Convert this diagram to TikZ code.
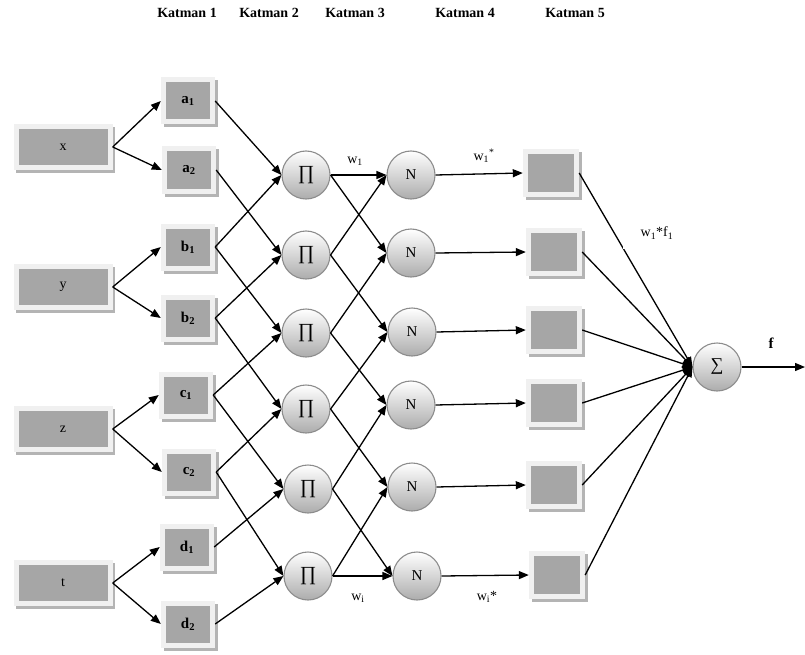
\documentclass[tikz,border=0pt]{standalone}
\usepackage{fontspec}
\setmainfont{Liberation Serif}
\usetikzlibrary{arrows.meta,shadows}

\definecolor{framegray}{HTML}{F0F0F0}
\definecolor{boxgray}{HTML}{A6A6A6}
\definecolor{shadowgray}{HTML}{B4B4B4}

\tikzset{
  box/.style={fill=framegray,
    drop shadow={shadow xshift=2.5pt, shadow yshift=-3pt, fill=shadowgray, opacity=1},
    path picture={\fill[boxgray] ([shift={(5pt,5pt)}]path picture bounding box.south west)
      rectangle ([shift={(-5pt,-5pt)}]path picture bounding box.north east);}},
  inbox/.style={box, minimum width=99pt, minimum height=46pt, font=\fontsize{14}{16}\selectfont},
  mfbox/.style={box, minimum width=54pt, minimum height=47pt, font=\bfseries\fontsize{15}{17}\selectfont},
  outbox/.style={box, minimum width=56pt, minimum height=48pt},
  neuron/.style={circle, minimum size=48pt, inner sep=0pt, draw=gray!90, line width=1.1pt,
    top color=white, bottom color=gray!65},
  link/.style={line width=1.3pt, -{Triangle[length=10pt,width=8pt]}},
  lbl/.style={font=\fontsize{14}{16}\selectfont, inner sep=1pt},
  head/.style={font=\bfseries\fontsize{14}{16}\selectfont}
}

\begin{document}
\begin{tikzpicture}[x=1pt, y=-1pt]
\useasboundingbox (0,0) rectangle (805,655);

% headings
\node[head] (h1) at (187,13) {Katman 1};
\node[head] (h2) at (269,13) {Katman 2};
\node[head] (h3) at (355,13) {Katman 3};
\node[head] (h4) at (465,13) {Katman 4};
\node[head] (h5) at (575,13) {Katman 5};

% inputs
\node[inbox] (i1) at (63,147) {x};
\node[inbox] (i2) at (63,287) {y};
\node[inbox] (i3) at (63,429) {z};
\node[inbox] (i4) at (63,583) {t};

% layer 1
\node[mfbox] (m1) at (188,101) {a\textsubscript{1}};
\node[mfbox] (m2) at (189,170) {a\textsubscript{2}};
\node[mfbox] (m3) at (188,247) {b\textsubscript{1}};
\node[mfbox] (m4) at (188,318) {b\textsubscript{2}};
\node[mfbox] (m5) at (186,395) {c\textsubscript{1}};
\node[mfbox] (m6) at (189,472) {c\textsubscript{2}};
\node[mfbox] (m7) at (187,547) {d\textsubscript{1}};
\node[mfbox] (m8) at (188,624) {d\textsubscript{2}};

% layer 2
\node[neuron, font=\fontsize{20}{22}\selectfont] (p1) at (306,175) {∏};
\node[neuron, font=\fontsize{20}{22}\selectfont] (p2) at (306,255) {∏};
\node[neuron, font=\fontsize{20}{22}\selectfont] (p3) at (306,333) {∏};
\node[neuron, font=\fontsize{20}{22}\selectfont] (p4) at (306,409) {∏};
\node[neuron, font=\fontsize{20}{22}\selectfont] (p5) at (308,489) {∏};
\node[neuron, font=\fontsize{20}{22}\selectfont] (p6) at (308,576) {∏};

% layer 3
\node[neuron, font=\fontsize{15}{17}\selectfont] (n1) at (411,175) {N};
\node[neuron, font=\fontsize{15}{17}\selectfont] (n2) at (411,253) {N};
\node[neuron, font=\fontsize{15}{17}\selectfont] (n3) at (412,332) {N};
\node[neuron, font=\fontsize{15}{17}\selectfont] (n4) at (411,405) {N};
\node[neuron, font=\fontsize{15}{17}\selectfont] (n5) at (412,487) {N};
\node[neuron, font=\fontsize{15}{17}\selectfont] (n6) at (417,576) {N};

% layer 4
\node[outbox] (q1) at (551,173) {};
\node[outbox] (q2) at (554,252) {};
\node[outbox] (q3) at (554,330) {};
\node[outbox] (q4) at (554,403) {};
\node[outbox] (q5) at (554,485) {};
\node[outbox] (q6) at (557,575) {};

% layer 5
\node[neuron, font=\fontsize{18}{20}\selectfont] (s) at (717,367) {∑};
\coordinate (o) at (805,367);

% inputs -> layer 1
\draw[link] (i1.east) -- (m1.west);
\draw[link] (i1.east) -- (m2.west);
\draw[link] (i2.east) -- (m3.west);
\draw[link] (i2.east) -- (m4.west);
\draw[link] (i3.east) -- (m5.west);
\draw[link] (i3.east) -- (m6.west);
\draw[link] (i4.east) -- (m7.west);
\draw[link] (i4.east) -- (m8.west);

% layer 1 -> layer 2
\draw[link] (m1.east) -- (p1.west);
\draw[link] (m2.east) -- (p2.west);
\draw[link] (m3.east) -- (p1.west);
\draw[link] (m3.east) -- (p3.west);
\draw[link] (m4.east) -- (p2.west);
\draw[link] (m4.east) -- (p4.west);
\draw[link] (m5.east) -- (p3.west);
\draw[link] (m5.east) -- (p5.west);
\draw[link] (m6.east) -- (p4.west);
\draw[link] (m6.east) -- (p6.west);
\draw[link] (m7.east) -- (p5.west);
\draw[link] (m8.east) -- (p6.west);

% layer 2 -> layer 3
\draw[link] (p1.east) -- (n1.west);
\draw[link] (p1.east) -- (n2.west);
\draw[link] (p2.east) -- (n1.west);
\draw[link] (p2.east) -- (n3.west);
\draw[link] (p3.east) -- (n2.west);
\draw[link] (p3.east) -- (n4.west);
\draw[link] (p4.east) -- (n3.west);
\draw[link] (p4.east) -- (n5.west);
\draw[link] (p5.east) -- (n4.west);
\draw[link] (p5.east) -- (n6.west);
\draw[link] (p6.east) -- (n5.west);
\draw[link] (p6.east) -- (n6.west);

% layer 3 -> layer 4
\draw[link] (n1.east) -- (q1.west);
\draw[link] (n2.east) -- (q2.west);
\draw[link] (n3.east) -- (q3.west);
\draw[link] (n4.east) -- (q4.west);
\draw[link] (n5.east) -- (q5.west);
\draw[link] (n6.east) -- (q6.west);

% layer 4 -> sum
\draw[link] (q1.east) -- (s.west);
\draw[link] (q2.east) -- (s.west);
\draw[link] (q3.east) -- (s.west);
\draw[link] (q4.east) -- (s.west);
\draw[link] (q5.east) -- (s.west);
\draw[link] (q6.east) -- (s.west);
\draw[link] (s.east) -- (o);

% labels
\node[lbl] (w1) at (355,161) {w\textsubscript{1}};
\node[lbl] (w1s) at (484,156) {w\textsubscript{1}\textsuperscript{*}};
\node[lbl] (wi) at (358,598) {w\textsubscript{i}};
\node[lbl] (wis) at (487,597) {w\textsubscript{i}*};
\node[lbl, fill=white, inner xsep=18pt, inner ysep=10pt] (wf) at (657,233) {w\textsubscript{1}*f\textsubscript{1}};
\node[lbl, font=\bfseries\fontsize{15}{17}\selectfont] (f) at (771,343) {f};
\end{tikzpicture}
\end{document}
